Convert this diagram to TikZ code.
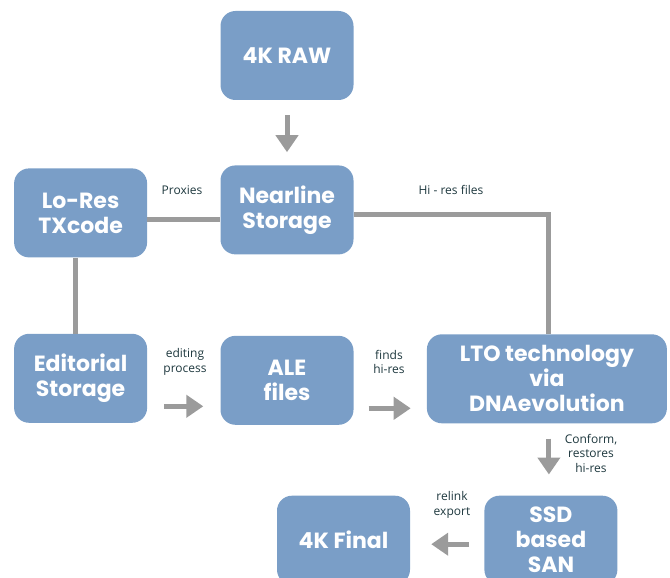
\documentclass[tikz,border=0pt]{standalone}
\usepackage{fontspec}
\setmainfont{Open Sans}
\newfontfamily\boxfont{Poppins}
\usepackage{tikz}
\usetikzlibrary{arrows.meta, positioning}
\definecolor{boxblue}{RGB}{122,158,199}
\definecolor{linegray}{RGB}{155,155,155}
\definecolor{labeltext}{RGB}{30,56,62}
\tikzstyle{block} = [rectangle, rounded corners=15pt, minimum width=133pt,
    minimum height=89pt, inner sep=3pt, align=center, fill=boxblue, text=white,
    font=\boxfont\bfseries\fontsize{22}{25}\selectfont]
\tikzstyle{wideblock} = [block, minimum width=240pt]
\tikzstyle{line} = [line width=5pt, draw=linegray]
\tikzstyle{arrow} = [line width=5pt, draw=linegray,
    -{Triangle[length=17pt, width=22pt]}]
\tikzstyle{lbl} = [align=center, text=labeltext,
    font=\fontsize{12}{14.5}\selectfont]

\begin{document}
\begin{tikzpicture}[x=1pt, y=-1pt]
  \useasboundingbox (0,0) rectangle (670,578);
  % Boxes
  \node[block] (raw) at (287,55.5) {4K RAW};
  \node[block, below=65pt of raw] (near) {Nearline\\Storage};
  \node[block, left=73pt of near, yshift=-3pt] (lores) {Lo-Res\\TXcode};
  \node[block, below=76pt of lores] (edit) {Editorial\\Storage};
  \node[block, below=81pt of near] (ale) {ALE\\files};
  \node[wideblock, right=73pt of ale, yshift=1.5pt] (lto)
    {LTO technology\\via\\DNAevolution};
  \node[block, below=72pt of lto, xshift=4pt] (ssd) {SSD\\based\\SAN};
  \node[block, left=74pt of ssd] (final) {4K Final};

  % Lines
  \draw[line]([yshift=-7pt]lores.east) -- ([yshift=-7pt]lores.east -| near.west);
  \draw[line]([xshift=-5pt]lores.south) -- ([xshift=-5pt]lores.south |- edit.north);
  \draw[line]([yshift=-5pt]near.east) -| ([xshift=2pt]lto.north);

  % Arrows
  \draw[arrow, shorten <=15pt, shorten >=13pt](raw) -- (near);
  \draw[arrow, shorten <=17pt, shorten >=17pt]([yshift=-28pt]edit.east)
    -- ([yshift=-28pt]edit.east -| ale.west);
  \draw[arrow, shorten <=15pt, shorten >=16pt]([yshift=-28pt]ale.east)
    -- ([yshift=-28pt]ale.east -| lto.west);
  \draw[arrow, shorten <=15pt, shorten >=21pt]([xshift=2pt]lto.south)
    -- ([xshift=2pt]lto.south |- ssd.north);
  \draw[arrow, shorten <=15pt, shorten >=21pt]([yshift=-4pt]ssd.west)
    -- ([yshift=-4pt]ssd.west -| final.east);

  % Labels
  \node[lbl] (proxies) at (182,190) {Proxies};
  \node[lbl] (hires) at (451,190) {Hi - res files};
  \node[lbl] (editing) at (185,362) {editing\\process};
  \node[lbl] (finds) at (389,362) {finds\\hi-res};
  \node[lbl] (conform) at (591,453) {Conform,\\restores\\hi-res};
  \node[lbl] (relink) at (452,505) {relink\\export};
\end{tikzpicture}
\end{document}
